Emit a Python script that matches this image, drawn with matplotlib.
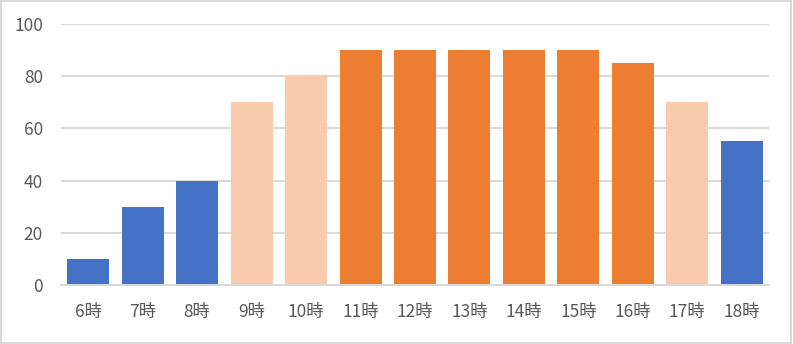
import numpy as np
from matplotlib import pyplot as plt

plt.rcParams['font.family'] = ['Noto Sans CJK JP', 'DejaVu Sans']

# chart data
hours = ['6時', '7時', '8時', '9時', '10時', '11時', '12時', '13時',
         '14時', '15時', '16時', '17時', '18時']
values = [10, 30, 40, 70, 80, 90, 90, 90, 90, 90, 85, 70, 55]
levels = ['low', 'low', 'low', 'mid', 'mid', 'high', 'high', 'high',
          'high', 'high', 'high', 'mid', 'low']

level_colours = {'low': '#4472C4', 'mid': '#F8CBAD', 'high': '#ED7D31'}
text_colour = '#595959'
grid_colour = '#D9D9D9'

fig = plt.figure(figsize=(7.93, 3.44), dpi=100)
ax = fig.add_axes([61 / 793, 59 / 344, 708 / 793, 261 / 344])

x = np.arange(len(hours))
ax.bar(x, values, width=0.77, color=[level_colours[l] for l in levels], zorder=2)

ax.set_xlim(-0.5, len(hours) - 0.5)
ax.set_ylim(0, 100)
ax.set_yticks(np.arange(0, 101, 20))
ax.set_xticks(x)
ax.set_xticklabels(hours)

ax.yaxis.grid(True, color=grid_colour, linewidth=1.4, zorder=0)
for side in ['top', 'right', 'left']:
    ax.spines[side].set_visible(False)
ax.spines['bottom'].set_color(grid_colour)
ax.spines['bottom'].set_linewidth(1.4)
ax.tick_params(axis='both', length=0, labelsize=12.5, colors=text_colour)
ax.tick_params(axis='x', pad=13)
ax.tick_params(axis='y', pad=13)

# light frame around the whole chart
fig.patches.append(plt.Rectangle((0.001, 0.002), 0.997, 0.995, transform=fig.transFigure,
                                 fill=False, edgecolor=grid_colour, linewidth=1.5))

fig.savefig('out.png', dpi=100)
